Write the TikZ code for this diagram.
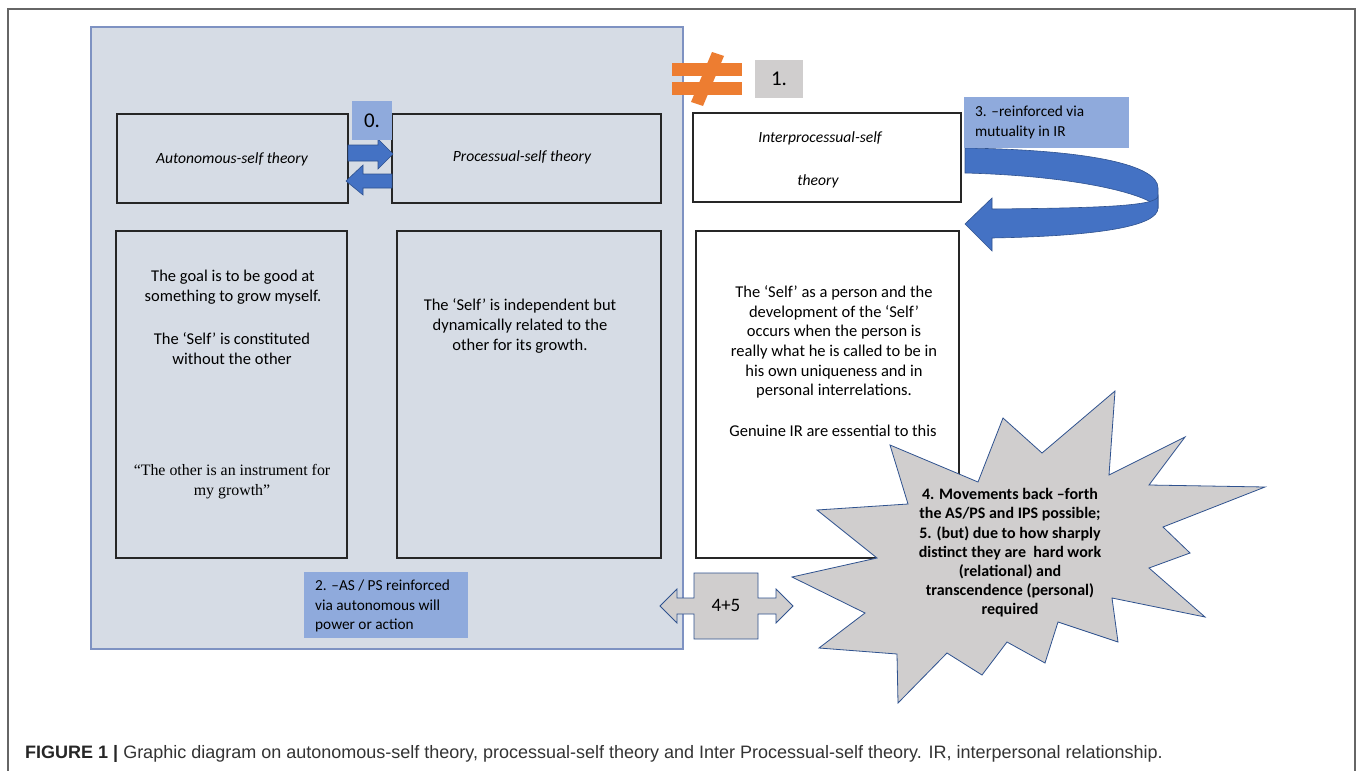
\documentclass[tikz,border=0pt]{standalone}
\usepackage{fontspec}
\setmainfont{Carlito}
\newfontfamily\timesf{Liberation Serif}
\newfontfamily\capf{Liberation Sans}
\definecolor{panelfill}{HTML}{D6DCE5}
\definecolor{panelline}{HTML}{7E92C2}
\definecolor{labblue}{HTML}{8FAADC}
\definecolor{arrblue}{HTML}{4472C4}
\definecolor{arrline}{HTML}{2F528F}
\definecolor{lgray}{HTML}{D0CECE}
\definecolor{orng}{HTML}{ED7D31}
\definecolor{framegray}{HTML}{666666}
\definecolor{captext}{HTML}{333333}
\tikzset{
  tbox/.style={draw=black!85, line width=1.2pt, inner sep=0pt},
  lab/.style={fill=labblue, inner sep=0pt},
  txt/.style={inner sep=0pt, align=center, font=\fontsize{16.5}{19.7}\selectfont},
  head/.style={inner sep=0pt, font=\fontsize{15.6}{19}\selectfont\itshape},
  ltxt/.style={inner sep=0pt, align=left, anchor=west, font=\fontsize{15.3}{19.5}\selectfont},
  bluearrow/.style={fill=arrblue, draw=arrline, line width=0.6pt},
}
\begin{document}
\begin{tikzpicture}[x=1pt,y=-1pt]
\useasboundingbox (0,0) rectangle (1358,771);
\fill[white] (0,0) rectangle (1358,771);
\draw[framegray, line width=1.5pt] (8,771) -- (8,9) -- (1355,9) -- (1355,771);

% panel
\node[fill=panelfill, draw=panelline, line width=1.5pt, minimum width=592pt, minimum height=622pt, inner sep=0pt] (panel) at (387,338) {};

% boxes
\node[tbox, minimum width=231pt, minimum height=89pt] (as) at (232.5,158.5) {};
\node[tbox, minimum width=269pt, minimum height=89pt] (ps) at (526.5,158.5) {};
\node[tbox, fill=white, minimum width=268pt, minimum height=89pt] (ips) at (827,157.5) {};
\node[tbox, minimum width=231pt, minimum height=327pt] (bl) at (231.5,394.5) {};
\node[tbox, minimum width=264pt, minimum height=327pt] (bm) at (529,394.5) {};
\node[tbox, fill=white, minimum width=263pt, minimum height=327pt] (br) at (827.5,394.5) {};

% headings
\node[head] (ash) at (232,159) {Autonomous-self theory};
\node[head] (psh) at (522,157) {Processual-self theory};
\node[head] (ipsh1) at (820,138) {Interprocessual-self};
\node[head] (ipsh2) at (818,181) {theory};

% box texts
\node[txt] (bl1) at (233,287) {The goal is to be good at\\something to grow myself.};
\node[txt] (bl2) at (232,348.5) {The ‘Self’ is constituted\\without the other};
\node[txt, font=\timesf\fontsize{15.9}{19.8}\selectfont] (bl3) at (232,482) {“The other is an instrument for\\my growth”};
\node[txt] (bm1) at (520,326) {The ‘Self’ is independent but\\dynamically related to the\\other for its growth.};
\node[txt] (br1) at (834,342) {The ‘Self’ as a person and the\\development of the ‘Self’\\occurs when the person is\\really what he is called to be in\\his own uniqueness and in\\personal interrelations.};
\node[txt] (br2) at (833,431) {Genuine IR are essential to this};

% arrows between AS and PS
\draw[bluearrow] (348,145) -- (378,145) -- (378,139) -- (393,154) -- (378,169) -- (378,161) -- (348,161) -- cycle;
\draw[bluearrow] (392,174) -- (363,174) -- (363,165) -- (346,181) -- (363,195) -- (363,188) -- (392,188) -- cycle;
\node[lab, minimum width=40pt, minimum height=39pt, font=\fontsize{21}{24}\selectfont] (l0) at (372,120.5) {0.};

% not-equal sign
\fill[orng] (672,63) rectangle (742,76);
\fill[orng] (672,82) rectangle (742,95);
\fill[orng] (712,52) -- (724,56) -- (703,106) -- (691,102) -- cycle;
\node[fill=lgray, inner sep=0pt, minimum width=48pt, minimum height=38pt, font=\fontsize{21}{24}\selectfont] (l1) at (779,79) {1.};

% curved arrow
\draw[bluearrow] (965,148) .. controls (1090,150) and (1158,165) .. (1158,188) -- (1158,208) .. controls (1150,195) and (1080,176) .. (965,173) -- cycle;
\draw[bluearrow] (1158,196) .. controls (1158,206) and (1100,208) .. (992,209) -- (992,198) -- (965,224) -- (992,251) -- (992,238) .. controls (1100,236) and (1158,226) .. (1158,208) -- cycle;
\node[lab, minimum width=165pt, minimum height=51pt] (l3) at (1046.5,122.5) {};
\node[ltxt] (l3t) at (975,122.5) {3. --reinforced via\\mutuality in IR};

% label 2
\node[lab, minimum width=164pt, minimum height=66pt] (l2) at (386,605) {};
\node[ltxt] (l2t) at (315,606) {2. --AS / PS reinforced\\via autonomous will\\power or action};

% 4+5 double arrow
\draw[fill=lgray, draw=arrline, line width=0.8pt] (694,573) -- (758,573) -- (758,598) -- (776,598) -- (776,589) -- (793,606) -- (776,623) -- (776,614) -- (758,614) -- (758,639) -- (694,639) -- (694,614) -- (677,614) -- (677,623) -- (660,606) -- (677,589) -- (677,598) -- (694,598) -- cycle;
\node[inner sep=0pt, font=\fontsize{19}{22}\selectfont] (f45) at (726,605) {4+5};

% star
\draw[fill=lgray, draw=arrline, line width=0.8pt]
 (890,445) -- (978,482) -- (1003,418) -- (1042,453) -- (1115,391) -- (1109,475) -- (1185,437) -- (1149,485) -- (1265,487) -- (1163,527) -- (1190,553) -- (1149,568) -- (1205,617) -- (1112,598) -- (1118,642) -- (1058,622) -- (1045,663) -- (1007,642) -- (982,675) -- (947,653) -- (898,703) -- (897,654) -- (819,648) -- (865,613) -- (792,577) -- (877,558) -- (817,510) -- (908,504) -- cycle;
\node[inner sep=0pt, align=center, font=\bfseries\fontsize{16}{19.2}\selectfont] (startxt) at (1010,553) {4. Movements back --forth\\the AS/PS and IPS possible;\\5. (but) due to how sharply\\distinct they are\ \ hard work\\(relational) and\\transcendence (personal)\\required};

% caption
\node[inner sep=0pt, anchor=west, text=captext, font=\capf\fontsize{18}{21}\selectfont] (cap) at (25,754) {\textbf{\color{black!85}FIGURE 1 |} Graphic diagram on autonomous-self theory, processual-self theory and Inter Processual-self theory. IR, interpersonal relationship.};
\end{tikzpicture}
\end{document}
